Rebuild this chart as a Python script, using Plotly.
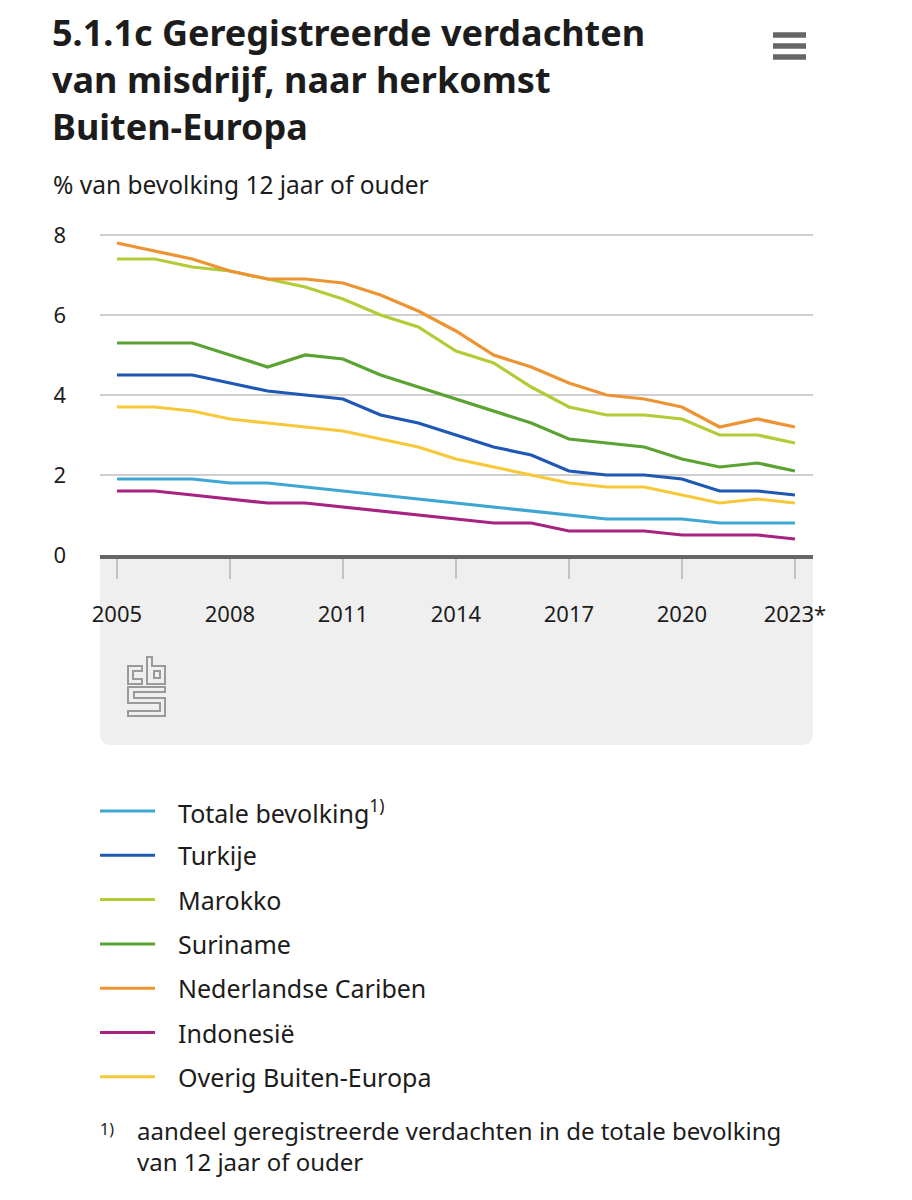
import plotly.graph_objects as go

years = list(range(2005, 2024))
series_names = ["Totale bevolking<sup>1)</sup>", "Turkije", "Marokko", "Suriname",
                "Nederlandse Cariben", "Indonesië", "Overig Buiten-Europa"]
series_colors = ["#3ea6d3", "#1f57b5", "#b2cc37", "#5aa232", "#ec9433", "#a8237f", "#f7c93a"]

totale = [1.9, 1.9, 1.9, 1.8, 1.8, 1.7, 1.6, 1.5, 1.4, 1.3, 1.2, 1.1, 1.0, 0.9, 0.9, 0.9, 0.8, 0.8, 0.8]
turkije = [4.5, 4.5, 4.5, 4.3, 4.1, 4.0, 3.9, 3.5, 3.3, 3.0, 2.7, 2.5, 2.1, 2.0, 2.0, 1.9, 1.6, 1.6, 1.5]
marokko = [7.4, 7.4, 7.2, 7.1, 6.9, 6.7, 6.4, 6.0, 5.7, 5.1, 4.8, 4.2, 3.7, 3.5, 3.5, 3.4, 3.0, 3.0, 2.8]
suriname = [5.3, 5.3, 5.3, 5.0, 4.7, 5.0, 4.9, 4.5, 4.2, 3.9, 3.6, 3.3, 2.9, 2.8, 2.7, 2.4, 2.2, 2.3, 2.1]
cariben = [7.8, 7.6, 7.4, 7.1, 6.9, 6.9, 6.8, 6.5, 6.1, 5.6, 5.0, 4.7, 4.3, 4.0, 3.9, 3.7, 3.2, 3.4, 3.2]
indonesie = [1.6, 1.6, 1.5, 1.4, 1.3, 1.3, 1.2, 1.1, 1.0, 0.9, 0.8, 0.8, 0.6, 0.6, 0.6, 0.5, 0.5, 0.5, 0.4]
overig = [3.7, 3.7, 3.6, 3.4, 3.3, 3.2, 3.1, 2.9, 2.7, 2.4, 2.2, 2.0, 1.8, 1.7, 1.7, 1.5, 1.3, 1.4, 1.3]
series_values = [totale, turkije, marokko, suriname, cariben, indonesie, overig]

x_tickvals = [2005, 2008, 2011, 2014, 2017, 2020, 2023]
x_ticktext = ["2005", "2008", "2011", "2014", "2017", "2020", "2023*"]
y_tickvals = [0, 2, 4, 6, 8]

title_lines = ["5.1.1c Geregistreerde verdachten", "van misdrijf, naar herkomst", "Buiten-Europa"]
subtitle_text = "% van bevolking 12 jaar of ouder"
footnote_mark = "1)"
footnote_lines = ["aandeel geregistreerde verdachten in de totale bevolking", "van 12 jaar of ouder"]

OFF = 8  # page body margin
W, H = 912 - OFF, 1200 - OFF
L, R, T, B = 100, 813, 227, 555  # plot area in page pixels
FONT = "Noto Sans"
TXT = "#1c1c1c"


def pxx(x):
    return (x - L) / (R - L)


def pxy(y):
    return (B - y) / (B - T)


fig = go.Figure()
for name, vals, col in zip(series_names, series_values, series_colors):
    fig.add_trace(go.Scatter(x=years, y=vals, name=name, mode="lines",
                             line=dict(color=col, width=3.2), cliponaxis=False,
                             showlegend=False))

shapes = []
r_x = 12 / (R - L)
r_y = 12 / (B - T)
yb = pxy(745)
band_path = (f"M0,0 L1,0 L1,{yb + r_y} Q1,{yb} {1 - r_x},{yb} "
             f"L{r_x},{yb} Q0,{yb} 0,{yb + r_y} Z")
shapes.append(dict(type="path", xref="paper", yref="paper", path=band_path,
                   fillcolor="#efefef", line=dict(width=0), layer="below"))


def poly(points):
    return "M" + " L".join(f"{pxx(x)},{pxy(y)}" for x, y in points) + " Z"


logo_col = "#9a9a9a"
logo_polys = [
    [(128, 666), (142, 666), (142, 671), (133, 671), (133, 679), (142, 679), (142, 684), (128, 684)],
    [(147, 657), (152, 657), (152, 666), (165, 666), (165, 684), (147, 684)],
    [(154, 671), (160, 671), (160, 678), (154, 678)],
    [(128, 687), (165, 687), (165, 692), (134, 692), (134, 698), (165, 698), (165, 716),
     (128, 716), (128, 711), (160, 711), (160, 703), (128, 703)],
]
for p in logo_polys:
    shapes.append(dict(type="path", xref="paper", yref="paper", path=poly(p),
                       line=dict(color=logo_col, width=2), fillcolor="rgba(0,0,0,0)"))

for yy in [35, 46, 57]:
    shapes.append(dict(type="line", xref="paper", yref="paper",
                       x0=pxx(773), x1=pxx(806), y0=pxy(yy), y1=pxy(yy),
                       line=dict(color="#666666", width=5.5)))

annotations = []
annotations.append(dict(xref="paper", yref="paper", x=pxx(50), y=pxy(80),
                        text="<br>".join(title_lines), showarrow=False,
                        xanchor="left", yanchor="middle", align="left",
                        font=dict(family=FONT, size=36, color=TXT, weight="bold")))
annotations.append(dict(xref="paper", yref="paper", x=pxx(51), y=pxy(184), text=subtitle_text,
                        showarrow=False, xanchor="left", yanchor="middle",
                        font=dict(family=FONT, size=24.5, color=TXT)))

leg_y0, leg_dy = 811, 44.3
for i, (name, col) in enumerate(zip(series_names, series_colors)):
    yy = leg_y0 + i * leg_dy
    shapes.append(dict(type="line", xref="paper", yref="paper",
                       x0=pxx(100), x1=pxx(155), y0=pxy(yy), y1=pxy(yy),
                       line=dict(color=col, width=3)))
    annotations.append(dict(xref="paper", yref="paper", x=pxx(176), y=pxy(yy), text=name,
                            showarrow=False, xanchor="left", yanchor="middle",
                            font=dict(family=FONT, size=25, color=TXT)))

annotations.append(dict(xref="paper", yref="paper", x=pxx(98), y=pxy(1129), text=footnote_mark,
                        showarrow=False, xanchor="left", yanchor="middle",
                        font=dict(family=FONT, size=16, color=TXT)))
annotations.append(dict(xref="paper", yref="paper", x=pxx(135), y=pxy(1146),
                        text="<br>".join(footnote_lines), showarrow=False,
                        xanchor="left", yanchor="middle", align="left",
                        font=dict(family=FONT, size=24, color=TXT)))

fig.update_layout(
    width=W, height=H,
    margin=dict(l=L - OFF, r=W - (R - OFF), t=T - OFF, b=H - (B - OFF), pad=0),
    paper_bgcolor="white", plot_bgcolor="white",
    font=dict(family=FONT, size=22, color=TXT),
    showlegend=False,
    shapes=shapes, annotations=annotations,
    xaxis=dict(range=[2004.55, 2023.48], tickvals=x_tickvals, ticktext=x_ticktext,
               showgrid=False, zeroline=False, showline=True, linecolor="#666666", linewidth=4,
               ticks="outside", ticklen=20, tickwidth=2, tickcolor="#c4c4c4",
               ticklabelstandoff=17, tickfont=dict(size=22, color=TXT), fixedrange=True),
    yaxis=dict(range=[0, 8.2], tickvals=y_tickvals, showgrid=True, gridcolor="#cfcfcf",
               gridwidth=1.5, zeroline=False, showline=False, ticks="",
               ticklabelstandoff=33, tickfont=dict(size=22, color=TXT), fixedrange=True),
)

fig.write_html("out.html")
